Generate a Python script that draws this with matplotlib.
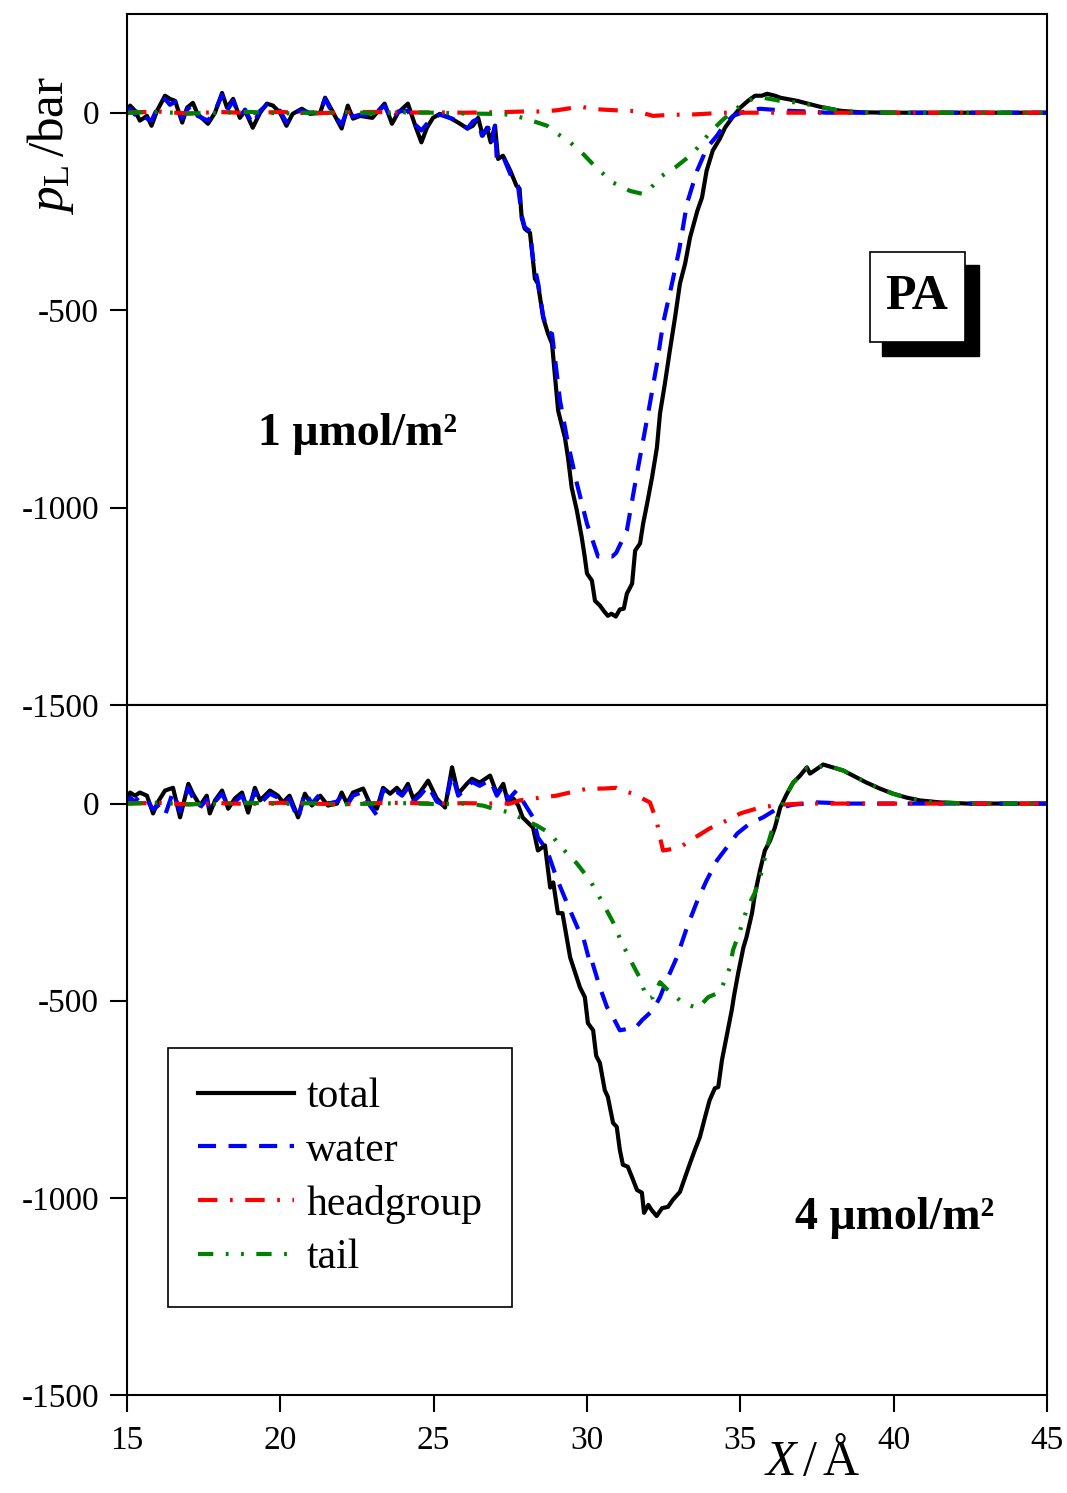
import numpy as np
import matplotlib
matplotlib.use("Agg")
import matplotlib.pyplot as plt
from matplotlib.patches import Rectangle

plt.rcParams['font.family'] = ['Liberation Serif', 'DejaVu Serif']
plt.rcParams['mathtext.fontset'] = 'custom'
plt.rcParams['mathtext.rm'] = 'Liberation Serif'
plt.rcParams['mathtext.it'] = 'Liberation Serif:italic'
plt.rcParams['mathtext.bf'] = 'Liberation Serif:bold'
plt.rcParams['lines.scale_dashes'] = False
plt.rcParams['axes.unicode_minus'] = False

# ---- top panel : 1 umol/m2 ----
top_total_x = [15.0, 15.1, 15.26, 15.42, 15.65, 15.8, 15.98, 16.24, 16.4, 16.57, 16.8, 16.96, 17.15, 17.3,
               17.64, 17.87, 18.1, 18.26, 18.46, 18.68, 18.85, 19.1, 19.34, 19.56, 19.76, 19.99, 20.2, 20.4,
               20.7, 20.97, 21.3, 21.46, 21.69, 22.0, 22.2, 22.37, 22.6, 23.0, 23.4, 23.64, 23.84, 24.16,
               24.4, 24.6, 24.78, 24.98, 25.2, 25.53, 25.8, 26.1, 26.28, 26.45, 26.6, 26.74, 26.86, 27.0,
               27.1, 27.26, 27.5, 27.7, 27.8, 27.87, 27.97, 28.14, 28.24, 28.3, 28.4, 28.57, 28.73, 28.86,
               28.96, 29.06, 29.28, 29.38, 29.5, 29.67, 29.83, 29.93, 30.0, 30.16, 30.26, 30.42, 30.55,
               30.68, 30.8, 30.94, 31.07, 31.2, 31.3, 31.47, 31.57, 31.73, 31.83, 31.96, 32.12, 32.28,
               32.38, 32.54, 32.7, 32.87, 33.03, 33.2, 33.36, 33.6, 33.75, 33.9, 34.1, 34.33, 34.5, 34.73,
               35.0, 35.25, 35.48, 35.7, 35.87, 36.13, 36.3, 36.85, 37.6, 38.25, 38.9, 40.0, 45.0]
top_total_y = [0, 18, 5, -20, -8, -33, 5, 43, 35, 30, -25, 13, 25, -3,
               -28, 0, 50, 13, 35, -13, 5, -38, 0, 23, 18, 0, -33, -3,
               10, -3, 0, 38, 5, -40, 18, -15, -8, -13, 23, -28, 0, 23,
               -33, -75, -38, -13, -3, -13, -25, -40, -33, -13, -58, -38, -75, -33,
               -117, -109, -147, -185, -192, -266, -294, -304, -375, -420, -433, -519, -560, -585,
               -671, -755, -823, -873, -949, -1008, -1076, -1127, -1167, -1185, -1236, -1248, -1262,
               -1274, -1269, -1276, -1258, -1256, -1218, -1193, -1109, -1091, -1041, -990, -924, -848,
               -762, -686, -603, -519, -433, -382, -316, -248, -215, -147, -96, -66, -38, -13,
               13, 30, 43, 43, 48, 43, 38, 30, 15, 5, 1, 0, 0]

top_water_x = [15.0, 15.1, 15.26, 15.42, 15.65, 15.8, 15.98, 16.24, 16.4, 16.57, 16.8, 16.96, 17.15, 17.3,
               17.64, 17.87, 18.1, 18.26, 18.46, 18.68, 18.85, 19.1, 19.34, 19.56, 19.76, 19.99, 20.2, 20.4,
               20.7, 20.97, 21.3, 21.46, 21.69, 22.0, 22.2, 22.37, 22.6, 23.0, 23.4, 23.64, 23.84, 24.16,
               24.4, 24.6, 24.78, 24.98, 25.2, 25.6, 25.8, 26.1, 26.28, 26.45, 26.57, 26.78, 26.9, 27.0,
               27.06, 27.26, 27.55, 27.75, 27.87, 27.97, 28.14, 28.24, 28.4, 28.57, 28.73, 28.86, 29.12,
               29.38, 29.67, 30.0, 30.36, 30.59, 30.82, 30.95, 31.3, 31.57, 31.83, 32.05, 32.28, 32.48,
               32.77, 33.0, 33.26, 33.59, 33.91, 34.24, 34.5, 34.76, 35.22, 35.64, 36.5, 37.2, 37.8, 45.0]
top_water_y = [0, 10, -5, 10, -15, -20, 10, 35, 20, 28, -15, 8, 20, -8,
               -20, 5, 45, 5, 30, -10, 8, -30, 5, 20, 12, 5, -25, 0,
               5, 0, 3, 35, 0, -30, 10, -10, -5, -8, 18, -20, 3, 5,
               -30, -45, -28, -13, -5, -15, -22, -40, -22, -15, -58, -38, -75, -33,
               -120, -110, -165, -185, -260, -290, -300, -370, -430, -515, -555, -560, -729,
               -838, -939, -1041, -1124, -1122, -1124, -1115, -1058, -939, -830, -737, -636, -534,
               -433, -350, -230, -147, -89, -58, -28, -8, 5, 10, 5, 3, 0, 0]

top_head_x = [15, 16, 17, 18, 19, 20, 21, 22, 23, 24, 25, 26, 27, 27.9, 28.5, 29.0, 29.5, 29.85,
              30.1, 30.5, 31.2, 31.6, 32.15, 32.8, 33.3, 33.8, 34.5, 45]
top_head_y = [0, 3, -2, 2, -1, 2, -2, 1, 2, 0, 1, 0, 1, 3, 3, 6, 12, 15,
              10, 8, 5, 4, -8, -5, -5, -3, 0, 0]

top_tail_x = [15, 16, 17, 18, 19, 20, 21, 22, 23, 24, 25, 26, 27, 27.5, 28.0, 28.7, 28.9, 29.45, 29.88,
              30.3, 30.42, 30.85, 31.4, 31.83, 32.05, 32.44, 32.87, 33.36, 33.6, 34.0, 34.4, 34.77,
              35.1, 35.4, 35.74, 36.3, 36.95, 37.6, 38.25, 39.0, 40.0, 45.0]
top_tail_y = [0, 2, -2, 0, 2, -2, 0, 2, -1, 1, 0, -2, -3, -5, -15, -33, -46, -75, -105,
              -139, -147, -177, -198, -206, -193, -160, -139, -109, -89, -51, -20, 5,
              23, 35, 38, 30, 25, 15, 5, 1, 0, 0]

# ---- bottom panel : 4 umol/m2 ----
bot_total_x = [15.0, 15.1, 15.26, 15.42, 15.65, 15.85, 16.0, 16.24, 16.5, 16.73, 17.0, 17.15, 17.38, 17.6,
               17.7, 17.87, 18.1, 18.3, 18.52, 18.75, 18.95, 19.17, 19.34, 19.66, 19.92, 20.09, 20.3,
               20.58, 20.8, 21.03, 21.3, 21.55, 21.85, 22.0, 22.17, 22.37, 22.7, 22.92, 23.15, 23.35,
               23.58, 23.8, 23.97, 24.16, 24.33, 24.55, 24.82, 25.1, 25.37, 25.6, 25.8, 26.08, 26.25,
               26.5, 26.84, 27.06, 27.27, 27.43, 27.6, 27.76, 27.9, 28.24, 28.4, 28.63, 28.8, 28.9,
               29.05, 29.2, 29.45, 29.77, 29.93, 30.03, 30.2, 30.3, 30.42, 30.58, 30.68, 30.85, 30.97,
               31.07, 31.17, 31.33, 31.5, 31.63, 31.79, 31.86, 32.0, 32.1, 32.27, 32.45, 32.64, 32.8,
               33.03, 33.2, 33.36, 33.52, 33.68, 33.85, 34.0, 34.17, 34.28, 34.4, 34.55, 34.72, 34.8,
               34.93, 35.1, 35.2, 35.38, 35.48, 35.64, 35.8, 35.97, 36.13, 36.3, 36.52, 36.72, 36.95,
               37.17, 37.27, 37.5, 37.7, 38.0, 38.35, 38.67, 39.12, 39.55, 39.98, 40.43, 40.86, 41.5,
               42.4, 45.0]
bot_total_y = [5, 28, 20, 28, 20, -25, 3, 33, 40, -35, 50, 25, -5, 20,
               -25, 8, 33, -13, 13, 28, -23, 40, 8, 33, 20, 3, 20,
               -35, 25, -5, 20, -5, 0, 28, 0, 28, 38, 0, -13, 40,
               25, 40, 25, 50, 13, 28, 58, 13, -10, 92, 25, 50, 63,
               53, 71, 25, 50, 0, 13, -5, -35, -61, -119, -106, -213, -200,
               -278, -278, -390, -466, -491, -557, -575, -640, -658, -727, -744, -810, -820,
               -878, -916, -921, -954, -980, -987, -1038, -1018, -1030, -1046, -1026, -1023, -1005,
               -985, -947, -912, -878, -846, -795, -752, -722, -719, -651, -592, -524, -485,
               -430, -365, -339, -278, -228, -170, -119, -94, -60, -10, 25, 53, 71,
               92, 76, 88, 99, 92, 84, 71, 53, 38, 25, 15, 8, 3,
               0, 0]

bot_water_x = [15.0, 15.1, 15.26, 15.42, 15.65, 15.85, 16.0, 16.24, 16.5, 16.73, 17.0, 17.15, 17.38, 17.6,
               17.7, 17.87, 18.1, 18.3, 18.52, 18.75, 18.95, 19.17, 19.34, 19.66, 19.92, 20.09, 20.3,
               20.58, 20.8, 21.03, 21.3, 21.55, 21.85, 22.0, 22.17, 22.37, 22.7, 22.92, 23.15, 23.35,
               23.58, 23.8, 23.97, 24.16, 24.33, 24.55, 24.82, 25.1, 25.37, 25.6, 25.8, 26.08, 26.25,
               26.5, 26.84, 27.06, 27.27, 27.43, 27.7, 27.8, 28.24, 28.4, 28.7, 29.0, 29.35, 29.77,
               29.87, 30.1, 30.15, 30.42, 30.65, 30.85, 31.07, 31.3, 31.6, 31.8, 32.15, 32.38, 32.6,
               32.93, 33.26, 33.6, 33.9, 34.24, 34.56, 34.9, 35.3, 35.74, 36.2, 36.7, 37.5, 38.5, 45.0]
bot_water_y = [0, 15, 5, 20, 10, -15, -5, -30, 30, -20, 40, 15, -10, 10,
               -15, 5, 25, -5, 5, 20, -15, 30, 0, 25, 15, 0, 12,
               -40, 30, 0, 25, 0, 5, 20, -5, 20, 30, -5, -30, 35,
               20, 30, 20, 40, 5, 20, 45, 5, -5, 75, 20, 40, 55,
               45, 60, 20, 45, 10, 33, 20, -35, -86, -119, -187, -253, -329,
               -337, -405, -397, -466, -516, -542, -575, -572, -567, -549, -524, -491, -448,
               -390, -314, -246, -195, -144, -111, -76, -51, -35, -13, -3, 3, 0, 0]

bot_head_x = [15, 16, 17, 18, 19, 20, 21, 22, 23, 24, 25, 26, 27, 27.5, 27.8, 28.47, 29.0, 29.55, 30.03,
              30.52, 30.97, 31.17, 31.5, 32.05, 32.27, 32.38, 32.48, 32.8, 33.03, 33.36, 34.0, 34.56,
              35.0, 35.64, 36.3, 37.0, 45.0]
bot_head_y = [0, 2, -2, 1, -1, 2, 0, -2, 1, 2, 0, 1, 0, 0, 8, 15, 20, 30, 38,
              38, 40, 33, 25, 3, -43, -86, -119, -115, -111, -94, -63, -43,
              -25, -10, -3, 0, 0]

bot_tail_x = [15, 16, 17, 18, 19, 20, 21, 22, 23, 24, 25, 26, 26.6, 26.95, 27.5, 27.8, 28.37, 28.8, 29.2,
              29.67, 30.1, 30.52, 30.85, 31.14, 31.47, 31.73, 31.95, 32.15, 32.38, 32.6, 33.13, 33.62,
              33.95, 34.34, 34.66, 34.76, 34.99, 35.22, 35.48, 35.71, 35.87, 36.03, 36.29, 36.52, 36.72,
              36.95, 37.17, 37.5, 37.7, 38.0, 38.35, 38.67, 39.12, 39.55, 39.98, 40.43, 40.86, 41.5,
              42.4, 45.0]
bot_tail_y = [0, 2, -2, 0, 2, -1, 1, -2, 0, 1, -1, 0, -5, -13, -23, -35, -56, -76, -114,
              -152, -195, -253, -301, -354, -405, -443, -495, -491, -453, -470, -506, -519,
              -491, -478, -415, -372, -322, -266, -225, -170, -111, -68, -18, 25, 53,
              71, 90, 88, 97, 92, 84, 71, 53, 38, 25, 15, 8, 3,
              0, 0]

series_names = ['total', 'water', 'headgroup', 'tail']
series_colors = ['black', 'blue', 'red', 'green']
series_dash = ['-', (0, (13, 9)), (0, (14, 9, 2, 9)), (0, (11, 9, 2, 9, 2, 9))]

xticks = [15, 20, 25, 30, 35, 40, 45]
yticks = [-1500, -1000, -500, 0]

fig = plt.figure(figsize=(10.67, 14.93), dpi=100)
ax1 = fig.add_axes([127/1067, 1-705/1493, 920/1067, 691/1493])
ax2 = fig.add_axes([127/1067, 1-1395/1493, 920/1067, 690/1493])

top_data = [(top_total_x, top_total_y), (top_water_x, top_water_y),
            (top_head_x, top_head_y), (top_tail_x, top_tail_y)]
bot_data = [(bot_total_x, bot_total_y), (bot_water_x, bot_water_y),
            (bot_head_x, bot_head_y), (bot_tail_x, bot_tail_y)]

for ax, data in [(ax1, top_data), (ax2, bot_data)]:
    for (xs, ys), name, c, ls in zip(data, series_names, series_colors, series_dash):
        ax.plot(xs, ys, color=c, linestyle=ls, lw=3.0, label=name)
    ax.set_xlim(15, 45)
    ax.set_ylim(-1500, 250)
    ax.set_yticks(yticks)
    ax.set_xticks(xticks)
    ax.tick_params(direction='out', length=12, width=1.5, labelsize=24, pad=8,
                   top=False, right=False)
    for s in ax.spines.values():
        s.set_linewidth(1.5)

ax1.tick_params(bottom=False, labelbottom=False)
ax2.tick_params(axis='x', pad=10)

ax1.text(22.53, -813, '1 μmol/m²', fontsize=33, fontweight='bold', ha='center', va='center')
ax2.text(40.04, -1051, '4 μmol/m²', fontsize=33, fontweight='bold', ha='center', va='center')

# PA box with shadow
ax1.add_patch(Rectangle((0.8207, 0.505), 0.1054, 0.1318, transform=ax1.transAxes,
                        facecolor='black', edgecolor='black', zorder=5))
ax1.add_patch(Rectangle((0.8076, 0.5253), 0.1034, 0.1303, transform=ax1.transAxes,
                        facecolor='white', edgecolor='black', lw=1.2, zorder=6))
ax1.text(0.8587, 0.5904, 'PA', transform=ax1.transAxes, fontsize=36, fontweight='bold',
         ha='center', va='center', zorder=7)

leg = ax2.legend(loc='upper left', bbox_to_anchor=(0.0446, 0.503), borderaxespad=0,
                 fontsize=30, handlelength=2.3, handletextpad=0.3, labelspacing=0.36,
                 borderpad=0.72, fancybox=False, frameon=True, framealpha=1)
leg.get_frame().set_edgecolor('black')
leg.get_frame().set_linewidth(1.2)

fig.text(50/1067, 1-145/1493, r'$p_{\mathrm{L}}\,/\mathrm{bar}$', rotation=90,
         fontsize=37, ha='center', va='center')
fig.text(812/1067, 1-1463/1493, r'$X\,/\,\mathrm{Å}$', fontsize=36, ha='center', va='center')

fig.savefig('out.png', dpi=100)
